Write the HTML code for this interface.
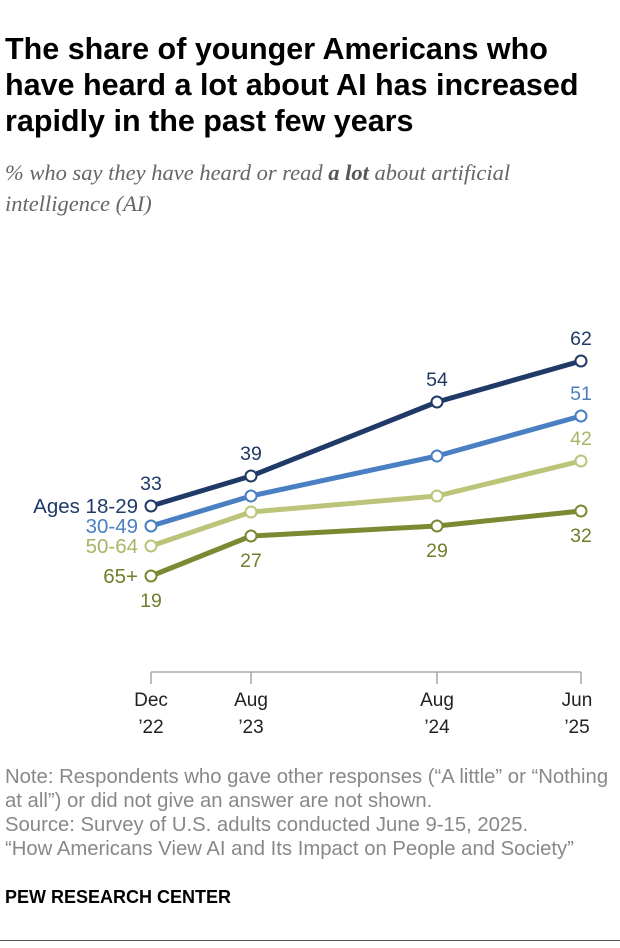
<!DOCTYPE html>
<html><head><meta charset="utf-8"><style>
body{margin:0;background:#fff;font-family:"Liberation Sans",sans-serif;}
.wrap{position:relative;width:620px;height:948px;overflow:hidden;}
.title{position:absolute;left:5px;top:31px;width:600px;font-size:30.5px;font-weight:bold;line-height:36px;color:#000;}
.sub{position:absolute;left:5px;top:157px;font-family:"Liberation Serif",serif;font-size:22.5px;font-style:italic;color:#666;line-height:31px;}
.note{position:absolute;left:5px;top:765px;font-size:20.3px;color:#888;line-height:24px;white-space:nowrap;}
.pew{position:absolute;left:5px;top:887px;font-size:18px;font-weight:bold;color:#000;}
.rule{position:absolute;left:0;top:940px;width:620px;height:1px;background:#555;}
</style></head><body><div class="wrap">
<div class="title">The share of younger Americans who have heard a lot about AI has increased rapidly in the past few years</div>
<div class="sub">% who say they have heard or read <b style="color:#555">a lot</b> about artificial<br>intelligence (AI)</div>
<svg width="620" height="948" style="position:absolute;left:0;top:0" font-family="Liberation Sans, sans-serif">
<g stroke="#999" stroke-width="1.3" fill="none">
<line x1="151" y1="672" x2="581" y2="672"/>
<line x1="151" y1="672" x2="151" y2="684"/><line x1="251" y1="672" x2="251" y2="684"/>
<line x1="437" y1="672" x2="437" y2="684"/><line x1="581" y1="672" x2="581" y2="684"/>
</g>
<g font-size="19" fill="#222" text-anchor="middle">
<text x="151" y="706">Dec</text><text x="151" y="733">’22</text>
<text x="251" y="706">Aug</text><text x="251" y="733">’23</text>
<text x="437" y="706">Aug</text><text x="437" y="733">’24</text>
<text x="577" y="706">Jun</text><text x="577" y="733">’25</text>
</g>
<g fill="none" stroke-width="5" stroke-linejoin="round">
<polyline stroke="#7a8a33" points="151,576 251,536 437,526 581,511"/>
<polyline stroke="#bcc47a" points="151,546 251,512 437,496 581,461"/>
<polyline stroke="#4a7fc1" points="151,526 251,496 437,456 581,416"/>
<polyline stroke="#1f3a66" points="151,506 251,476 437,402 581,361"/>
</g>
<g fill="#fff" stroke-width="2">
<g stroke="#7a8a33"><circle cx="151" cy="576" r="5.5"/><circle cx="251" cy="536" r="5.5"/><circle cx="437" cy="526" r="5.5"/><circle cx="581" cy="511" r="5.5"/></g>
<g stroke="#bcc47a"><circle cx="151" cy="546" r="5.5"/><circle cx="251" cy="512" r="5.5"/><circle cx="437" cy="496" r="5.5"/><circle cx="581" cy="461" r="5.5"/></g>
<g stroke="#4a7fc1"><circle cx="151" cy="526" r="5.5"/><circle cx="251" cy="496" r="5.5"/><circle cx="437" cy="456" r="5.5"/><circle cx="581" cy="416" r="5.5"/></g>
<g stroke="#1f3a66"><circle cx="151" cy="506" r="5.5"/><circle cx="251" cy="476" r="5.5"/><circle cx="437" cy="402" r="5.5"/><circle cx="581" cy="361" r="5.5"/></g>
</g>
<g font-size="19.5" text-anchor="middle">
<g fill="#1f3a66"><text x="151" y="490">33</text><text x="251" y="460">39</text><text x="437" y="386">54</text><text x="581" y="345">62</text></g>
<g fill="#4a7fc1"><text x="581" y="400">51</text></g>
<g fill="#aab466"><text x="581" y="445">42</text></g>
<g fill="#6f7f2c"><text x="151" y="607">19</text><text x="251" y="567">27</text><text x="437" y="557">29</text><text x="581" y="542">32</text></g>
</g>
<g font-size="20.5" text-anchor="end">
<text x="138" y="513" fill="#1f3a66">Ages 18-29</text>
<text x="138" y="533" fill="#4a7fc1">30-49</text>
<text x="138" y="553" fill="#aab466">50-64</text>
<text x="138" y="583" fill="#6f7f2c">65+</text>
</g>
</svg>
<div class="note">Note: Respondents who gave other responses (“A little” or “Nothing<br>at all”) or did not give an answer are not shown.<br>Source: Survey of U.S. adults conducted June 9-15, 2025.<br>“How Americans View AI and Its Impact on People and Society”</div>
<div class="pew">PEW RESEARCH CENTER</div>
<div class="rule"></div>
</div></body></html>
